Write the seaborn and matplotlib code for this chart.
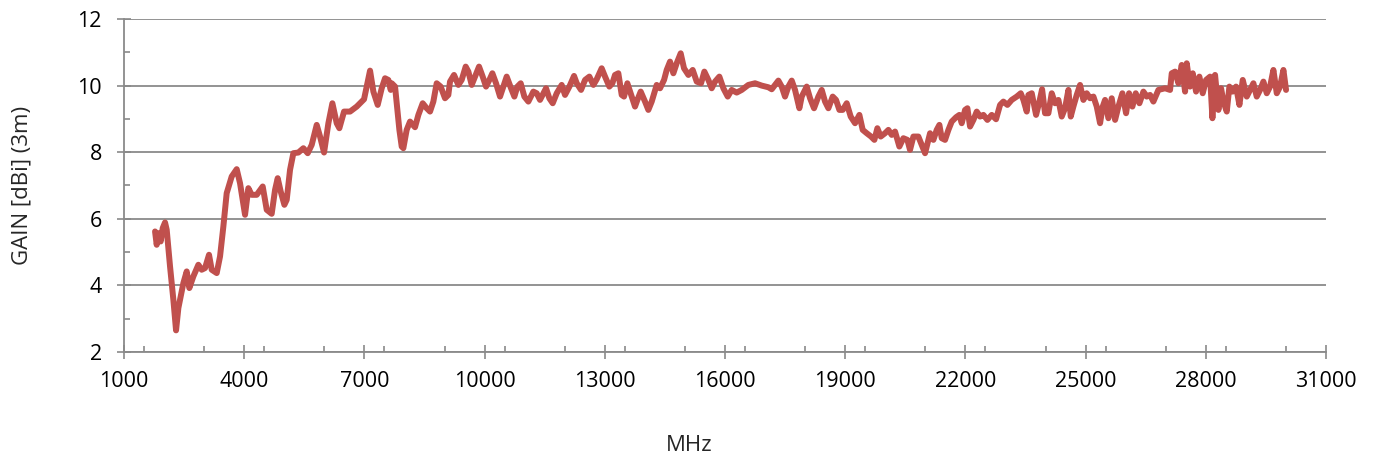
import numpy as np
import pandas as pd
import seaborn as sns
import matplotlib.pyplot as plt
from matplotlib.ticker import MultipleLocator

# gain curve, MHz / dBi
freq_mhz = [
    1775, 1816, 1858, 1916, 1966, 2024, 2066, 2149, 2232, 2299, 2357, 2482, 2565, 2631,
    2731, 2856, 2939, 3022, 3122, 3189, 3314, 3397, 3480, 3563, 3688, 3813, 3896, 4021,
    4104, 4187, 4312, 4462, 4562, 4686, 4770, 4836, 4911, 5003, 5061, 5144, 5227, 5352,
    5477, 5585, 5685, 5810, 5893, 5993, 6101, 6201, 6309, 6375, 6434, 6492, 6642, 6808,
    6991, 7074, 7141, 7224, 7332, 7432, 7515, 7598, 7657, 7682, 7765, 7873,
    7931, 7972, 8055, 8139, 8263, 8347, 8455, 8555, 8638, 8721, 8804, 8904, 9012, 9095,
    9137, 9237, 9345, 9428, 9528, 9595, 9678, 9761, 9861, 9952, 10036, 10119, 10194,
    10285, 10385, 10468, 10551, 10660, 10743, 10818, 10901, 10992, 11092, 11217, 11300,
    11383, 11533, 11616, 11700, 11800, 11924, 12007, 12116, 12232, 12299, 12407, 12507,
    12615, 12715, 12798, 12922, 13006, 13114, 13189, 13255, 13338, 13422, 13480, 13563,
    13646, 13754, 13813, 13896, 14004, 14087, 14171, 14295, 14379, 14479, 14545,
    14628, 14711, 14794, 14894, 14977, 15086, 15194, 15294, 15402, 15485, 15585, 15668,
    15751, 15859, 15959, 16068, 16167, 16292, 16417, 16583, 16750, 16916, 17082, 17166,
    17249, 17332, 17415, 17498, 17582, 17665, 17748, 17856, 17915, 18039, 18123, 18222,
    18330, 18414, 18497, 18580, 18688, 18771, 18855, 18938, 19038, 19137, 19246, 19354,
    19437, 19537, 19645, 19728, 19803, 19886, 19994, 20078, 20161, 20244, 20352, 20452,
    20552, 20618, 20702, 20826, 20910, 20993, 21076,
    21118, 21201, 21284, 21351, 21409, 21492, 21576, 21659, 21767, 21850, 21908, 21992,
    22050, 22116, 22200, 22283, 22366, 22449, 22549, 22657, 22765, 22865, 22948, 23048,
    23156, 23281, 23381, 23448, 23531, 23572, 23656, 23764, 23847, 23914, 23988, 24071,
    24155, 24238, 24321, 24404, 24487, 24571, 24629, 24695, 24779, 24862, 24945, 25028,
    25112, 25195, 25278, 25361, 25428, 25486, 25569, 25652, 25736, 25819, 25918, 26010,
    26085, 26168, 26251, 26343, 26443, 26526,
    26609, 26692, 26817, 26983, 27108, 27150, 27233, 27316, 27399, 27483, 27524, 27607,
    27674, 27757, 27840, 27923, 28007, 28107, 28165, 28231, 28315, 28381, 28440, 28523,
    28589, 28672, 28755, 28839, 28922, 29022, 29105, 29188, 29271, 29355, 29438, 29521,
    29604, 29687, 29771, 29854, 29937, 30003,
]
gain_dbi = [
    5.62, 5.22, 5.57, 5.32, 5.72, 5.89, 5.67, 4.57, 3.57, 2.65, 3.32, 4.07, 4.42, 3.92,
    4.27, 4.62, 4.47, 4.52, 4.92, 4.47, 4.37, 4.87, 5.77, 6.77, 7.27, 7.49, 7.07, 6.12,
    6.92, 6.72, 6.72, 6.97, 6.27, 6.15, 6.87, 7.22, 6.82, 6.42, 6.57, 7.47, 7.97, 7.99,
    8.12, 7.97, 8.22, 8.82, 8.47, 7.99, 8.87, 9.47, 8.87, 8.72, 8.97, 9.22, 9.22, 9.37,
    9.59, 10.07, 10.45, 9.82, 9.42, 9.92, 10.22, 10.17, 9.87, 10.07, 9.97, 8.67,
    8.17, 8.12, 8.67, 8.92, 8.75, 9.12, 9.47, 9.32, 9.22, 9.52, 10.07, 9.97, 9.62, 9.72,
    10.12, 10.32, 10.02, 10.17, 10.57, 10.42, 10.02, 10.27, 10.57, 10.27, 9.97, 10.17, 10.37,
    10.07, 9.67, 9.97, 10.27, 9.92, 9.67, 9.97, 10.07, 9.67, 9.52, 9.82, 9.77,
    9.57, 9.92, 9.62, 9.47, 9.77, 10.02, 9.72, 9.97, 10.29, 10.07, 9.87, 10.17,
    10.27, 10.02, 10.19, 10.52, 10.27, 9.97, 10.07, 10.32, 10.37, 9.72, 9.67, 10.07,
    9.77, 9.37, 9.57, 9.82, 9.52, 9.27, 9.52, 10.02, 9.92, 10.17, 10.47,
    10.72, 10.37, 10.67, 10.97, 10.52, 10.32, 10.47, 10.12, 10.07, 10.42, 10.17, 9.92,
    10.12, 10.27, 9.92, 9.67, 9.87, 9.79, 9.87, 10.02, 10.07, 10.00, 9.95, 9.89,
    10.02, 10.15, 9.97, 9.67, 9.97, 10.15, 9.87, 9.32, 9.67, 9.97, 9.62, 9.32,
    9.67, 9.87, 9.52, 9.32, 9.67, 9.57, 9.27, 9.27, 9.47, 9.07, 8.87, 9.12,
    8.67, 8.57, 8.47, 8.37, 8.72, 8.47, 8.57, 8.67, 8.52, 8.62, 8.17, 8.42,
    8.37, 8.07, 8.47, 8.47, 8.22, 7.97, 8.37,
    8.57, 8.37, 8.67, 8.82, 8.42, 8.37, 8.67, 8.92, 9.05, 9.12, 8.87, 9.27,
    9.32, 8.77, 8.97, 9.22, 9.07, 9.12, 8.97, 9.12, 8.99, 9.42, 9.52, 9.42,
    9.57, 9.67, 9.77, 9.57, 9.22, 9.72, 9.77, 9.12, 9.52, 9.89, 9.17, 9.17,
    9.77, 9.47, 9.57, 9.07, 9.32, 9.87, 9.07, 9.37, 9.72, 10.02, 9.57, 9.77,
    9.62, 9.67, 9.37, 8.87, 9.37, 9.57, 9.02, 9.62, 8.97, 9.37, 9.77, 9.17,
    9.77, 9.37, 9.77, 9.47, 9.82, 9.67,
    9.72, 9.52, 9.87, 9.92, 9.87, 10.37, 10.42, 10.07, 10.62, 9.82, 10.67, 9.97,
    10.37, 9.82, 10.27, 9.77, 10.17, 10.27, 9.02, 10.32, 9.27, 9.92, 9.52, 9.22,
    9.97, 9.82, 9.97, 9.42, 10.17, 9.67, 9.87, 10.07, 9.67, 9.87, 10.12, 9.77,
    9.97, 10.47, 9.77, 9.97, 10.47, 9.87,
]

x_ticks = list(range(1000, 31001, 3000))
y_ticks = [2, 4, 6, 8, 10, 12]

df = pd.DataFrame({'MHz': freq_mhz, 'gain': gain_dbi})

sns.set_style('white')
plt.rcParams['font.family'] = ['Open Sans', 'DejaVu Sans']

grey = '#8a8a8a'
fig = plt.figure(figsize=(13.78, 4.61), dpi=100)
ax = fig.add_axes([124 / 1378, 1 - 352 / 461, 1202 / 1378, 333 / 461])

sns.lineplot(data=df, x='MHz', y='gain', ax=ax, color='#c0504d', linewidth=4.3,
             solid_joinstyle='round', solid_capstyle='round')

ax.set_xlim(1000, 31000)
ax.set_ylim(2, 12)
ax.set_xticks(x_ticks)
ax.set_yticks(y_ticks)
ax.xaxis.set_minor_locator(MultipleLocator(1500))
ax.yaxis.set_minor_locator(MultipleLocator(1))

ax.grid(axis='y', which='major', color=grey, linewidth=1.3)
ax.set_axisbelow(True)
for s in ['top', 'right']:
    ax.spines[s].set_visible(False)
for s in ['left', 'bottom']:
    ax.spines[s].set_color(grey)
    ax.spines[s].set_linewidth(1.3)

ax.tick_params(which='major', direction='inout', length=10, width=1.2, color=grey,
               labelsize=15.5, labelcolor='black')
ax.tick_params(axis='x', which='major', pad=9)
ax.tick_params(axis='y', which='major', pad=11)
ax.tick_params(which='minor', direction='in', length=4.5, width=1.2, color=grey)
ax.tick_params(which='both', left=True, bottom=True)

ax.set_xlabel('')
ax.set_ylabel('')
fig.text(0.5, 1 - 445 / 461, 'MHz', ha='center', va='center', fontsize=16)
fig.text(22 / 1378, 1 - 185 / 461, 'GAIN [dBi] (3m)', ha='center', va='center',
         rotation=90, fontsize=16)

fig.savefig('out.png', dpi=100)
